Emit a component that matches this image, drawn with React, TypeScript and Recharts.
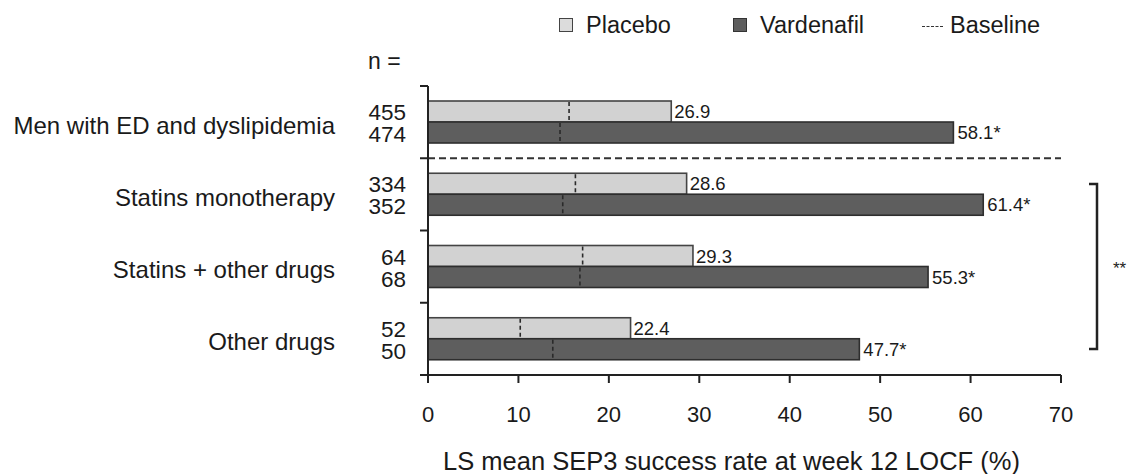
import { BarChart, Bar, XAxis, YAxis, LabelList, ReferenceLine } from "recharts";

const FONT = "'Liberation Sans', Arial, sans-serif";

const categories = [
  "Men with ED and dyslipidemia",
  "Statins monotherapy",
  "Statins + other drugs",
  "Other drugs",
];
const placebo = [26.9, 28.6, 29.3, 22.4];
const vardenafil = [58.1, 61.4, 55.3, 47.7];
const placeboBaseline = [15.6, 16.3, 17.1, 10.2];
const vardenafilBaseline = [14.6, 14.9, 16.8, 13.8];
const placeboN = [455, 334, 64, 52];
const vardenafilN = [474, 352, 68, 50];
const xTicks = [0, 10, 20, 30, 40, 50, 60, 70];

const data = categories.map((name, i) => ({
  name,
  placebo: placebo[i],
  vardenafil: vardenafil[i],
  placeboBase: placeboBaseline[i],
  vardenafilBase: vardenafilBaseline[i],
}));

// bar with the baseline drawn as a dashed tick inside it
function BaselineBar(props: any) {
  const { x, y, width, height, fill, payload, valueKey, baseKey, edge } = props;
  if (!payload) return null;
  const bx = x + (width * payload[baseKey]) / payload[valueKey];
  return (
    <g>
      <rect x={x} y={y} width={width} height={height} fill={fill} stroke={edge} strokeWidth={1.6} />
      <line x1={bx} x2={bx} y1={y + 1} y2={y + height - 1} stroke="#2a2a2a" strokeWidth={1.6} strokeDasharray="4 3" />
    </g>
  );
}

function CategoryTick(props: any) {
  const { x, y, payload } = props;
  const half = payload.offset || 36;
  const i = categories.indexOf(payload.value);
  return (
    <g fontFamily={FONT} fill="#1a1a1a">
      <line x1={x} x2={x + 8} y1={y - half} y2={y - half} stroke="#222" strokeWidth={2} />
      {i === categories.length - 1 && (
        <line x1={x} x2={x + 8} y1={y + half} y2={y + half} stroke="#222" strokeWidth={2} />
      )}
      <text x={x - 85} y={y + 3} textAnchor="end" dominantBaseline="central" fontSize={24}>
        {payload.value}
      </text>
      <text x={x - 14} y={y - 9.5} textAnchor="end" dominantBaseline="central" fontSize={22.5}>
        {placeboN[i]}
      </text>
      <text x={x - 14} y={y + 12.5} textAnchor="end" dominantBaseline="central" fontSize={22.5}>
        {vardenafilN[i]}
      </text>
    </g>
  );
}

function LegendBox() {
  return (
    <div style={{ position: "absolute", left: 0, top: 0, width: 1130, height: 50, fontSize: 23.5, color: "#1a1a1a" }}>
      <div style={{ position: "absolute", left: 559, top: 18, width: 12, height: 12, background: "#dcdcdc", border: "1.5px solid #444" }} />
      <span style={{ position: "absolute", left: 586, top: 12 }}>Placebo</span>
      <div style={{ position: "absolute", left: 733, top: 18, width: 12, height: 12, background: "#5e5e5e", border: "1.5px solid #333" }} />
      <span style={{ position: "absolute", left: 760, top: 12 }}>Vardenafil</span>
      <div style={{ position: "absolute", left: 922, top: 26, width: 21, borderTop: "1.5px dashed #333" }} />
      <span style={{ position: "absolute", left: 950, top: 12 }}>Baseline</span>
    </div>
  );
}

export default function App() {
  return (
    <div style={{ position: "absolute", left: 0, top: 0, width: 1130, height: 474, background: "#fff", fontFamily: FONT }}>
      <BarChart
        width={1130}
        height={474}
        data={data}
        layout="vertical"
        margin={{ top: 86, right: 69, bottom: 0, left: 0 }}
        barSize={21}
        barGap={0}
      >
        <XAxis
          type="number"
          domain={[0, 70]}
          ticks={xTicks}
          height={99}
          axisLine={{ stroke: "#222", strokeWidth: 2 }}
          tickLine={{ stroke: "#222", strokeWidth: 2 }}
          tickSize={8}
          tickMargin={23}
          tick={{ fontSize: 22, fill: "#1a1a1a", fontFamily: FONT }}
          label={{
            value: "LS mean SEP3 success rate at week 12 LOCF (%)",
            position: "insideBottom",
            offset: 4,
            dx: -13,
            fontSize: 25.5,
            fill: "#1a1a1a",
            fontFamily: FONT,
          }}
        />
        <YAxis
          type="category"
          dataKey="name"
          width={428}
          axisLine={{ stroke: "#222", strokeWidth: 2 }}
          tickLine={false}
          tickSize={8}
          tickMargin={0}
          tick={<CategoryTick />}
        />
        <ReferenceLine
          y={categories[0]}
          position="end"
          stroke="#333"
          strokeWidth={1.8}
          strokeDasharray="7 4"
        />
        <Bar
          dataKey="placebo"
          fill="#d2d2d2"
          isAnimationActive={false}
          shape={(p: any) => <BaselineBar {...p} valueKey="placebo" baseKey="placeboBase" edge="#444" />}
        >
          <LabelList dataKey="placebo" position="right" offset={3} fontSize={18.5} fill="#1a1a1a" fontFamily={FONT} />
        </Bar>
        <Bar
          dataKey="vardenafil"
          fill="#5e5e5e"
          isAnimationActive={false}
          shape={(p: any) => <BaselineBar {...p} valueKey="vardenafil" baseKey="vardenafilBase" edge="#2e2e2e" />}
        >
          <LabelList
            dataKey="vardenafil"
            position="right"
            offset={4}
            fontSize={18.5}
            fill="#1a1a1a"
            fontFamily={FONT}
            formatter={(v: any) => `${v}*`}
          />
        </Bar>
      </BarChart>
      <LegendBox />
      <div style={{ position: "absolute", left: 368, top: 48, fontSize: 23, color: "#1a1a1a" }}>n =</div>
      <svg style={{ position: "absolute", left: 1080, top: 175 }} width={50} height={185}>
        <polyline points="9,9 17,9 17,174 9,174" fill="none" stroke="#222" strokeWidth={2.5} />
        <text x={33} y={99} fontSize={17} fill="#222" fontFamily={FONT}>**</text>
      </svg>
    </div>
  );
}
